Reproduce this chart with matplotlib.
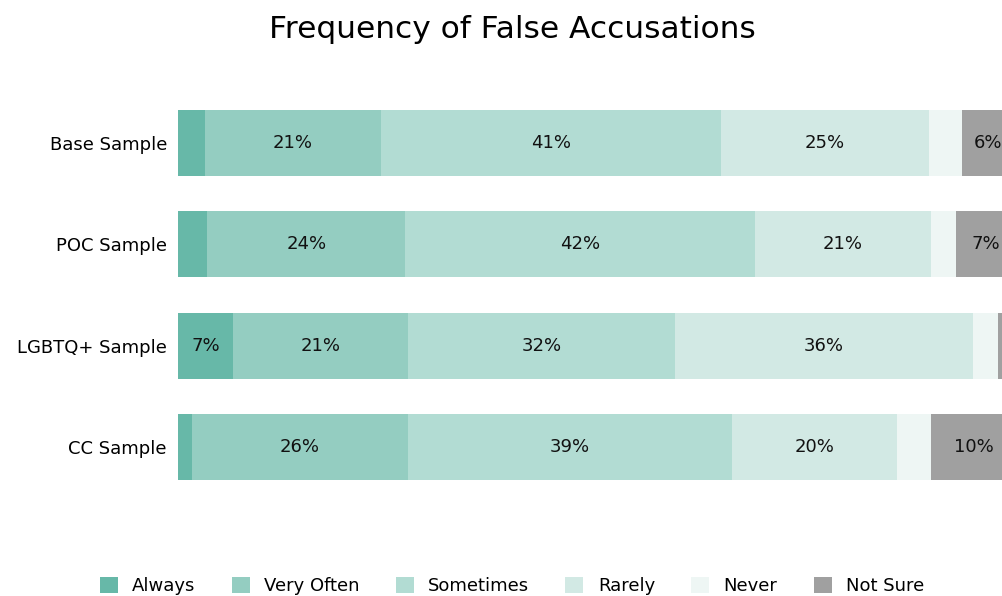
import numpy as np
import matplotlib
matplotlib.use('Agg')
import matplotlib.pyplot as plt

plt.rcParams['font.family'] = ['DejaVu Sans']

# 資料
groups = ['Base Sample', 'POC Sample', 'LGBTQ+ Sample', 'CC Sample']
answers = ['Always', 'Very Often', 'Sometimes', 'Rarely', 'Never', 'Not Sure']
always = [3.2, 3.5, 6.6, 1.7]
very_often = [21.0, 23.6, 20.8, 25.7]
sometimes = [40.6, 41.8, 31.9, 38.7]
rarely = [24.8, 20.9, 35.6, 19.7]
never = [3.9, 3.0, 3.0, 4.1]
not_sure = [6.2, 7.2, 2.1, 10.1]
colors = ['#67b8a8', '#94cdc1', '#b2dcd3', '#d2e9e4', '#eef6f4', '#a0a0a0']

series = [always, very_often, sometimes, rarely, never, not_sure]

fig = plt.figure(figsize=(10.02, 5.96), dpi=100)
ax = fig.add_axes([178 / 1002, 1 - 498 / 596, 838 / 1002, 406 / 596])

y = np.arange(len(groups))
left = np.zeros(len(groups))
for name, vals, c in zip(answers, series, colors):
    vals = np.array(vals)
    ax.barh(y, vals, left=left, height=0.65, color=c, label=name)
    for yi, l, v in zip(y, left, vals):
        if v >= 5:
            ax.text(l + v / 2, yi, f'{int(v + 0.5)}%', ha='center', va='center',
                    fontsize=13, color='#111111')
    left += vals

ax.set_xlim(0, 100)
ax.set_ylim(len(groups) - 0.5, -0.5)
ax.set_yticks(y)
ax.set_yticklabels(groups, fontsize=13)
ax.set_xticks([])
ax.tick_params(axis='y', length=0, pad=8)
for s in ax.spines.values():
    s.set_visible(False)

fig.suptitle('Frequency of False Accusations', x=512 / 1002, y=1 - 15 / 596,
             va='top', fontsize=22.5)
fig.legend(loc='center', bbox_to_anchor=(512 / 1002, 1 - 586 / 596), ncol=6,
           frameon=False, fontsize=13, handlelength=1.0, handleheight=1.0,
           columnspacing=2.0, handletextpad=0.8)

fig.savefig('out.png', dpi=100)
